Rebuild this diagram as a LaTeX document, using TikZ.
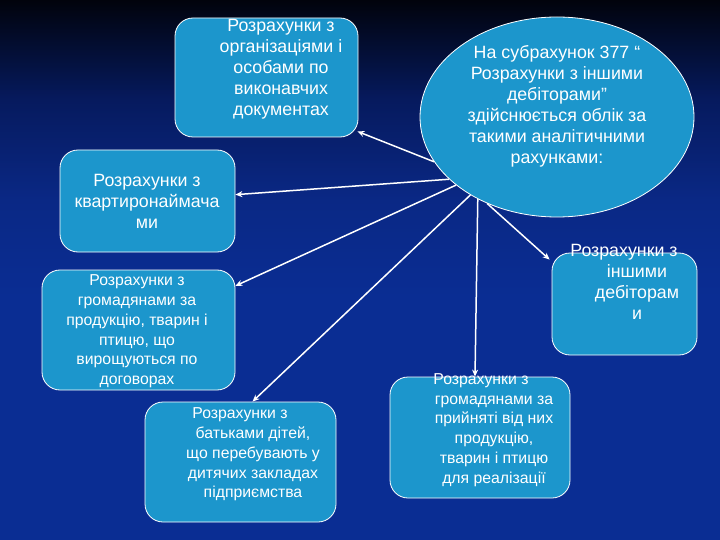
\documentclass[tikz,border=0pt]{standalone}
\usepackage{fontspec}
\setmainfont{Liberation Sans}
\usetikzlibrary{shapes.geometric,arrows.meta}
\definecolor{boxfill}{HTML}{1C96CC}
\definecolor{bgT}{HTML}{01030C}
\definecolor{bgM1}{HTML}{061A5E}
\definecolor{bgM2}{HTML}{0A2885}
\definecolor{bgB}{HTML}{0A2D93}
\pgfdeclareverticalshading{bgshade}{100bp}{color(0bp)=(bgB); color(25bp)=(bgB); color(47.5bp)=(bgB); color(56.5bp)=(bgM2); color(65.75bp)=(bgM1); color(75bp)=(bgT); color(100bp)=(bgT)}
\begin{document}
\begin{tikzpicture}[x=1pt,y=-1pt,
  box/.style={draw=white, line width=0.8pt, fill=boxfill, rounded corners=18pt, inner sep=0pt},
  txt/.style={text=white, align=center, inner sep=0pt},
  big/.style={font=\fontsize{17.8}{21}\selectfont},
  small/.style={font=\fontsize{15.8}{19.8}\selectfont},
  arr/.style={draw=white, line width=1.5pt, -{Stealth[length=7pt,width=6pt]}}]
\useasboundingbox (0,0) rectangle (720,540);
\shade[shading=bgshade] (0,0) rectangle (720,540);

% boxes
\node[box, minimum width=183pt, minimum height=119pt] (A) at (266.5,77.5) {};
\node[txt,big] (At) at (281,69) {Розрахунки з\\організаціями і\\особами по\\виконавчих\\документах};

\node[box, minimum width=175pt, minimum height=102pt] (B) at (147.5,201) {};
\node[txt,big] (Bt) at (147,201) {Розрахунки з\\квартиронаймача\\ми};

\node[box, minimum width=193pt, minimum height=120pt] (C) at (138.5,330) {};
\node[txt,small] (Ct) at (137,331.5) {Розрахунки з\\громадянами за\\продукцію, тварин і\\птицю, що\\вирощуються по\\договорах};

\node[box, minimum width=191pt, minimum height=120pt] (D) at (240.5,462) {};
\node[txt,small] (Dt) at (253,454.5) {Розрахунки з\rule{26pt}{0pt}\\батьками дітей,\\що перебувають у\\дитячих закладах\\підприємства};

\node[box, minimum width=180pt, minimum height=121pt] (E) at (480,437.5) {};
\node[txt,small] (Et) at (494,430) {Розрахунки з\rule{26pt}{0pt}\\громадянами за\\прийняті від них\\продукцію,\\тварин і птицю\\для реалізації};

\node[box, minimum width=145pt, minimum height=102pt] (F) at (624.5,304) {};
\node[txt,big] (Ft) at (637,281.5) {Розрахунки з\rule{26pt}{0pt}\\іншими\\дебіторам\\и};

% ellipse
\node[draw=white, line width=0.8pt, fill=boxfill, ellipse, minimum width=274pt, minimum height=200pt, inner sep=0pt] (ell) at (557,117) {};
\node[txt,big] (ellt) at (557,106.5) {На субрахунок 377 “\\Розрахунки з іншими\\дебіторами”\\здійснюється облік за\\такими аналітичними\\рахунками:};

% connectors
\draw[arr] (ell.200) -- ([shift={(-1pt,6pt)}]A.south east);
\draw[arr] (ell.210) -- (B);
\draw[arr] (ell.214) -- (C);
\draw[arr] (ell.222) -- ([xshift=12pt]D.north);
\draw[arr] (ell.226) -- ([xshift=-5pt]E.north);
\draw[arr] (ell.231) -- ([shift={(-2pt,-7pt)}]F.north west);
\end{tikzpicture}
\end{document}
